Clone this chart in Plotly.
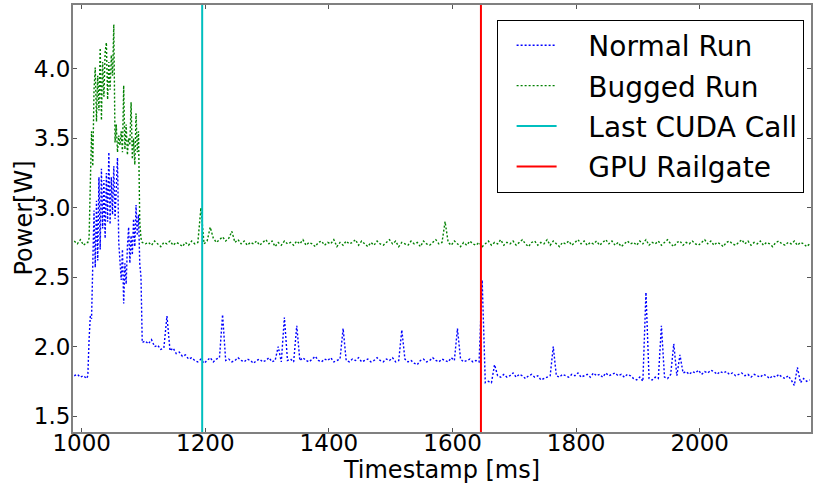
import plotly.graph_objects as go

# ---------------- data ----------------
# sampling: 5 ms, denser (2 ms) during the start-up burst
timestamps_ms = (list(range(988, 1010, 5))
                 + list(range(1010, 1100, 2))
                 + list(range(1103, 2180, 5)))

normal_run_w = [
    1.79, 1.80, 1.78, 1.79, 1.77,
    # 1010 .. 1098 (2 ms)
    1.79, 2.05, 2.22, 2.20, 2.60, 2.98, 2.57, 3.05, 2.62, 3.22,
    2.70, 3.28, 2.85, 3.20, 2.78, 3.25, 2.90, 3.40, 2.88, 3.22,
    2.95, 3.30, 2.92, 3.15, 3.36, 2.75, 2.62, 2.48, 2.70, 2.31,
    2.60, 2.45, 2.72, 2.86, 2.60, 2.80, 2.66, 2.92, 2.72, 3.02,
    2.80, 2.95, 2.60, 2.50, 2.03,
    # 1103 ..
    2.04, 2.02, 2.05, 2.00, 2.01, 1.98, 1.99,
    2.22, 1.97, 1.99, 1.95, 1.96, 1.93, 1.94, 1.91, 1.92, 1.90,
    1.89, 1.91, 1.88, 1.90, 1.92, 1.89, 1.91, 1.92, 2.23, 1.90,
    1.91, 1.89, 1.90, 1.92, 1.90, 1.89, 1.91, 1.90, 1.88, 1.90,
    1.91, 1.89, 1.90, 1.92, 1.89, 1.90, 2.00, 1.89, 2.21, 1.90,
    1.91, 1.89, 2.15, 1.90, 1.92, 1.90, 1.89, 1.91, 1.93, 1.90,
    1.89, 1.91, 1.90, 1.92, 1.89, 1.90, 1.91, 2.13, 1.90, 1.89,
    1.91, 1.90, 1.92, 1.89, 1.90, 1.91, 1.89, 1.90, 1.92, 1.90,
    1.89, 1.91, 1.90, 1.92, 1.89, 1.90, 2.12, 1.91, 1.89, 1.90,
    1.88, 1.87, 1.90, 1.91, 1.89, 1.90, 1.92, 1.90, 1.89, 1.91,
    1.90, 1.89, 1.92, 1.90, 2.13, 1.91, 1.89, 1.90, 1.91, 1.89,
    1.90, 1.89, 2.48, 1.74, 1.75, 1.74, 1.87, 1.79, 1.78, 1.80,
    1.78, 1.79, 1.81, 1.78, 1.80, 1.79, 1.77, 1.79, 1.80, 1.78,
    1.79, 1.76, 1.77, 1.78, 1.79, 2.00, 1.79, 1.78, 1.80, 1.79,
    1.78, 1.80, 1.79, 1.81, 1.78, 1.79, 1.80, 1.78, 1.81, 1.79,
    1.80, 1.78, 1.81, 1.79, 1.80, 1.81, 1.79, 1.80, 1.78, 1.80,
    1.79, 1.77, 1.76, 1.78, 1.75, 2.39, 1.77, 1.76, 1.78, 1.77,
    2.15, 1.78, 1.77, 1.80, 2.02, 1.79, 1.94, 1.81, 1.82, 1.80,
    1.82, 1.81, 1.83, 1.80, 1.82, 1.81, 1.83, 1.82, 1.80, 1.82,
    1.81, 1.82, 1.80, 1.81, 1.79, 1.80, 1.81, 1.79, 1.80, 1.78,
    1.80, 1.79, 1.78, 1.80, 1.79, 1.77, 1.79, 1.78, 1.80, 1.78,
    1.77, 1.79, 1.76, 1.72, 1.85, 1.74, 1.77, 1.75, 1.76,
]

bugged_run_w = [
    2.76, 2.74, 2.77, 2.73, 2.75,
    # 1010 .. 1098 (2 ms)
    2.75, 2.78, 3.25, 3.55, 3.30, 3.85, 4.01, 3.62, 3.95, 3.70,
    4.15, 3.63, 4.05, 3.80, 4.12, 4.19, 3.78, 4.05, 3.85, 4.10,
    3.95, 4.32, 3.47, 3.60, 3.40, 3.52, 3.45, 3.55, 3.40, 3.88,
    3.42, 3.60, 3.38, 3.50, 3.45, 3.76, 3.35, 3.50, 3.31, 3.68,
    3.40, 3.55, 2.90, 2.78, 2.75,
    # 1103 ..
    2.74, 2.75, 2.73, 2.76, 2.74, 2.72, 2.75,
    2.74, 2.76, 2.73, 2.75, 2.74, 2.72, 2.75, 2.73, 2.76, 2.74,
    2.75, 3.00, 2.74, 2.76, 2.86, 2.78, 2.75, 2.77, 2.79, 2.76,
    2.78, 2.83, 2.75, 2.77, 2.74, 2.76, 2.73, 2.75, 2.74, 2.76,
    2.73, 2.75, 2.77, 2.74, 2.76, 2.72, 2.75, 2.73, 2.76, 2.74,
    2.75, 2.73, 2.76, 2.74, 2.77, 2.73, 2.75, 2.74, 2.72, 2.75,
    2.76, 2.73, 2.75, 2.74, 2.77, 2.72, 2.75, 2.73, 2.76, 2.74,
    2.75, 2.77, 2.73, 2.76, 2.74, 2.72, 2.75, 2.73, 2.76, 2.74,
    2.73, 2.75, 2.77, 2.74, 2.76, 2.72, 2.75, 2.74, 2.73, 2.76,
    2.74, 2.75, 2.72, 2.76, 2.74, 2.73, 2.75, 2.77, 2.74, 2.75,
    2.90, 2.75, 2.73, 2.76, 2.74, 2.72, 2.75, 2.73, 2.76, 2.74,
    2.73, 2.75, 2.72, 2.74, 2.76, 2.73, 2.75, 2.74, 2.77, 2.73,
    2.75, 2.74, 2.76, 2.73, 2.75, 2.77, 2.74, 2.72, 2.75, 2.76,
    2.73, 2.75, 2.74, 2.77, 2.73, 2.76, 2.74, 2.72, 2.75, 2.74,
    2.76, 2.73, 2.75, 2.77, 2.74, 2.76, 2.73, 2.75, 2.74, 2.76,
    2.73, 2.75, 2.77, 2.74, 2.76, 2.73, 2.75, 2.72, 2.74, 2.76,
    2.74, 2.75, 2.73, 2.76, 2.74, 2.77, 2.73, 2.75, 2.74, 2.76,
    2.73, 2.75, 2.77, 2.74, 2.72, 2.75, 2.76, 2.73, 2.75, 2.74,
    2.76, 2.74, 2.73, 2.75, 2.77, 2.74, 2.76, 2.73, 2.75, 2.74,
    2.72, 2.75, 2.76, 2.74, 2.73, 2.75, 2.77, 2.74, 2.76, 2.73,
    2.75, 2.74, 2.76, 2.73, 2.75, 2.74, 2.72, 2.75, 2.76, 2.74,
    2.73, 2.75, 2.74, 2.76, 2.73, 2.75, 2.74, 2.72, 2.74,
]

last_cuda_call_ms = 1195
gpu_railgate_ms = 1646

x_ticks = [1000, 1200, 1400, 1600, 1800, 2000]
y_ticks = [1.5, 2.0, 2.5, 3.0, 3.5, 4.0]
x_range = [986, 2180]
y_range = [1.385, 4.46]

series_names = ["Normal Run", "Bugged Run", "Last CUDA Call", "GPU Railgate"]

# ---------------- figure ----------------
FONT = "DejaVu Sans"
PAD = "\u00a0\u00a0\u00a0"  # gap between legend sample and label
fig = go.Figure()

fig.add_trace(go.Scatter(
    x=timestamps_ms, y=normal_run_w, mode="lines", name=PAD + series_names[0],
    legendgroup="a",
    line=dict(color="#0000ff", width=1.4, dash="2px,2px"),
))
fig.add_trace(go.Scatter(
    x=timestamps_ms, y=bugged_run_w, mode="lines", name=PAD + series_names[1],
    legendgroup="b",
    line=dict(color="#008000", width=1.4, dash="2px,2px"),
))
fig.add_trace(go.Scatter(
    x=[last_cuda_call_ms, last_cuda_call_ms], y=[y_range[0] - 1, y_range[1] + 1],
    mode="lines", name=PAD + series_names[2], legendgroup="c",
    line=dict(color="#00bfbf", width=2),
))
fig.add_trace(go.Scatter(
    x=[gpu_railgate_ms, gpu_railgate_ms], y=[y_range[0] - 1, y_range[1] + 1],
    mode="lines", name=PAD + series_names[3], legendgroup="d",
    line=dict(color="#ff0000", width=2),
))

axis_common = dict(
    showgrid=False, zeroline=False,
    showline=True, linecolor="#808080", linewidth=2, mirror="ticks",
    ticks="inside", ticklen=4, tickwidth=1, tickcolor="#555555",
    tickfont=dict(family=FONT, size=23, color="black"),
)

fig.update_layout(
    width=814, height=484,
    margin=dict(l=73, r=1, t=5, b=52),
    paper_bgcolor="white", plot_bgcolor="white",
    font=dict(family=FONT, color="black"),
    xaxis=dict(
        range=x_range, tickvals=x_ticks, ticklabelstandoff=-11,
        title=dict(text="Timestamp [ms]", font=dict(family=FONT, size=24), standoff=0),
        **axis_common,
    ),
    yaxis=dict(
        range=y_range, tickvals=y_ticks, tickformat=".1f", ticklabelstandoff=-4,
        **axis_common,
    ),
    annotations=[dict(
        text="Power[W]", textangle=-90, showarrow=False,
        xref="paper", yref="paper", x=0, y=0.5, xshift=-50,
        xanchor="center", yanchor="middle",
        font=dict(family=FONT, size=24, color="black"),
    )],
    legend=dict(
        x=0.574, y=0.966, xanchor="left", yanchor="top",
        bgcolor="white", bordercolor="black", borderwidth=1,
        font=dict(family=FONT, size=28),
        traceorder="grouped", tracegroupgap=1,
        itemwidth=40, indentation=14,
    ),
    showlegend=True,
)

fig.write_html("out.html")
